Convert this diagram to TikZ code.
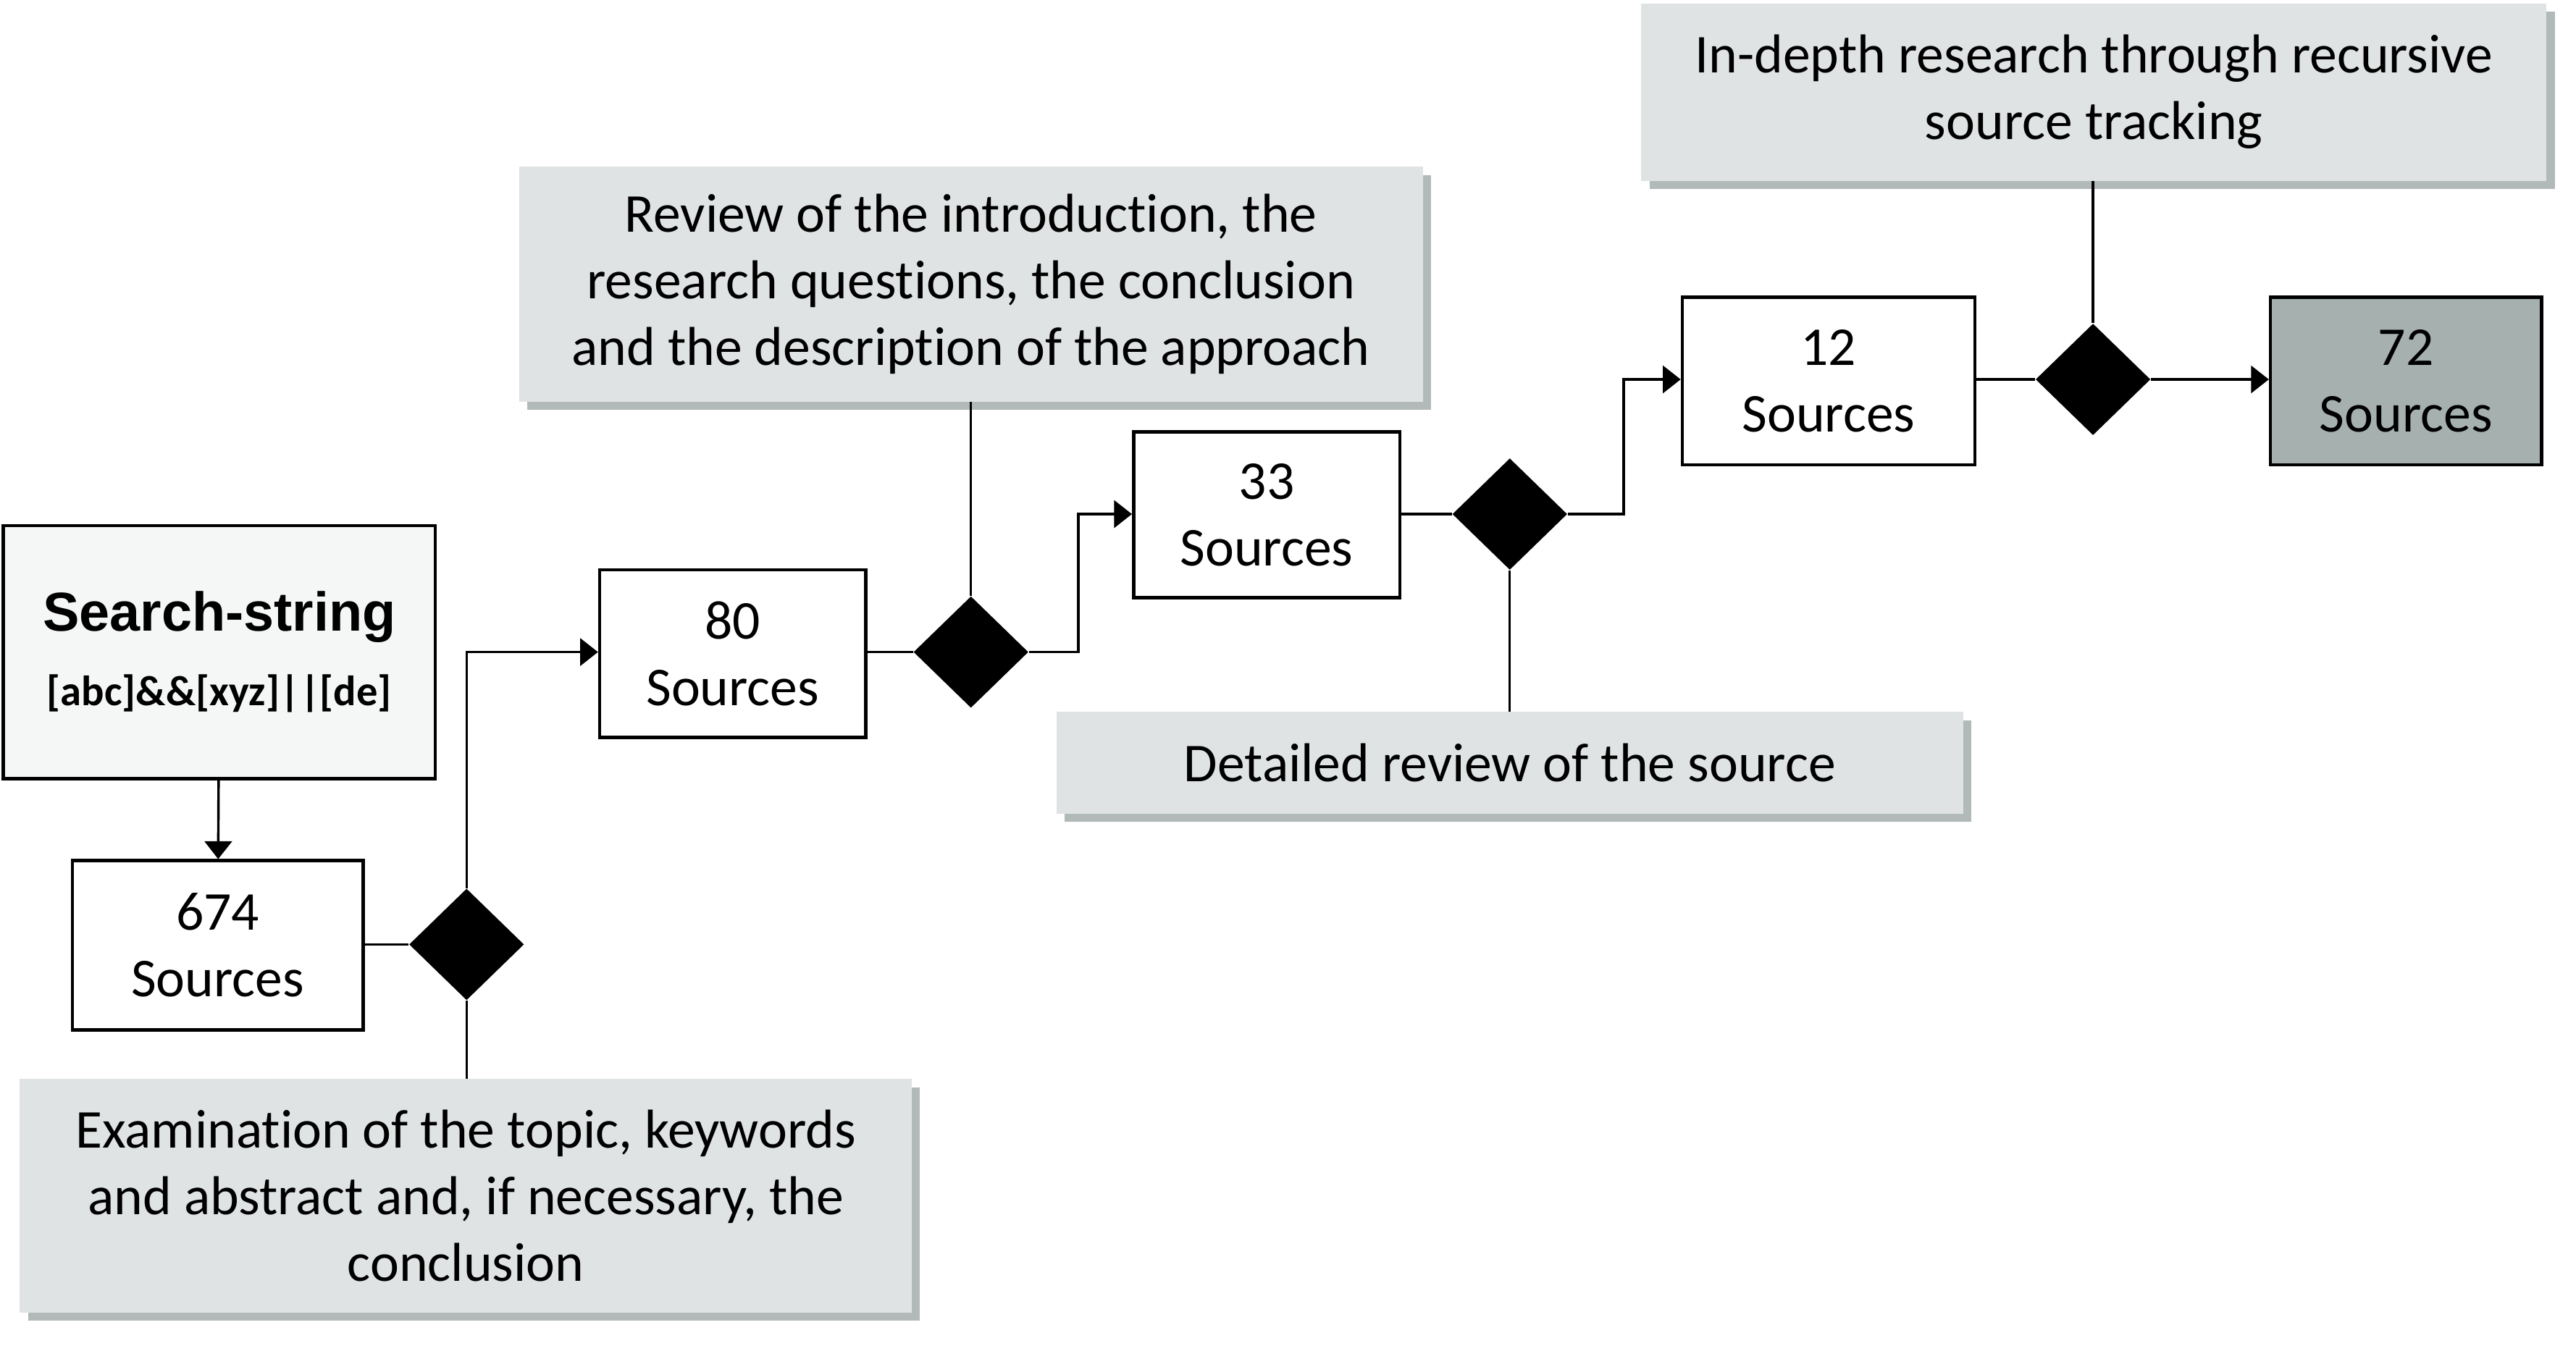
\documentclass[tikz,border=0pt]{standalone}
\usepackage{fontspec}
\setmainfont[Ligatures=NoCommon]{Carlito}
\newfontfamily\headfont{Liberation Sans}
\usetikzlibrary{arrows.meta,shapes.geometric,shadows}
\definecolor{notegray}{HTML}{DFE3E3}
\definecolor{shadegray}{HTML}{9DA8A8}
\definecolor{startgray}{HTML}{F5F7F7}
\definecolor{endgray}{HTML}{A5B0AF}
\newcommand{\boxfont}{\fontsize{20}{24.3}\selectfont}
\begin{document}
\begin{tikzpicture}[x=0.6pt,y=-0.6pt,
  box/.style={draw, line width=1.2pt, fill=white, align=center, inner sep=0pt, font=\boxfont},
  note/.style={fill=notegray, align=center, inner sep=0pt, font=\boxfont,
    drop shadow={shadow xshift=3pt, shadow yshift=-3pt, fill=shadegray, opacity=0.8}},
  gate/.style={diamond, fill=black, inner sep=0pt, minimum width=42pt, minimum height=40.8pt},
  link/.style={line width=0.9pt},
  flow/.style={line width=0.9pt, -{Triangle[length=6.5pt,width=10pt]}}]
\useasboundingbox (0,0) rectangle (1568,827);

% sources boxes
\node[box, fill=startgray, minimum width=157.8pt, minimum height=92.4pt] (search) at (133.5,397)
  {{\headfont\bfseries\fontsize{20}{24}\selectfont Search-string}\\[3pt]{\bfseries\fontsize{15.5}{18}\selectfont [abc]\&\&[xyz]||[de]}};
\node[box, minimum width=106.2pt, minimum height=61.8pt] (s674) at (132.5,575.5) {674\\Sources};
\node[box, minimum width=97.2pt, minimum height=61.2pt] (s80) at (446,398) {80\\Sources};
\node[box, minimum width=97.2pt, minimum height=60.6pt] (s33) at (771,313.5) {33\\Sources};
\node[box, minimum width=106.8pt, minimum height=61.2pt] (s12) at (1113,232) {12\\Sources};
\node[box, fill=endgray, minimum width=99pt, minimum height=61.2pt] (s72) at (1464.5,232) {72\\Sources};

% decision points
\node[gate] (d1) at (284,575) {};
\node[gate] (d2) at (591,397) {};
\node[gate] (d3) at (919,313) {};
\node[gate] (d4) at (1274,231) {};

% review steps
\node[note, minimum width=325.8pt, minimum height=85.2pt] (c1) at (283.5,728)
  {Examination of the topic, keywords\\and abstract and, if necessary, the\\conclusion};
\node[note, minimum width=330pt, minimum height=85.8pt] (c2) at (591,173)
  {Review of the introduction, the\\research questions, the conclusion\\and the description of the approach};
\node[note, minimum width=331.2pt, minimum height=37.2pt] (c3) at (919,464.5)
  {Detailed review of the source};
\node[note, minimum width=330.6pt, minimum height=64.8pt] (c4) at (1274.5,56)
  {In-depth research through recursive\\source tracking};

\draw[flow] (search) -- (s674);
\draw[link] (s674.east |- d1) -- (d1);
\draw[flow] (d1.north) |- (s80.west |- d2);
\draw[link] (d1.south) -- (d1.south |- c1.north);

\draw[link] (s80.east |- d2) -- (d2);
\draw[flow] (d2.east) -- ++(30,0) |- (s33.west |- d3);
\draw[link] (d2.north) -- (d2.north |- c2.south);

\draw[link] (s33.east |- d3) -- (d3);
\draw[flow] (d3.east) -- ++(34,0) |- (s12.west |- d4);
\draw[link] (d3.south) -- (d3.south |- c3.north);

\draw[link] (s12.east |- d4) -- (d4);
\draw[flow] (d4) -- (s72.west |- d4);
\draw[link] (d4.north) -- (d4.north |- c4.south);
\end{tikzpicture}
\end{document}
